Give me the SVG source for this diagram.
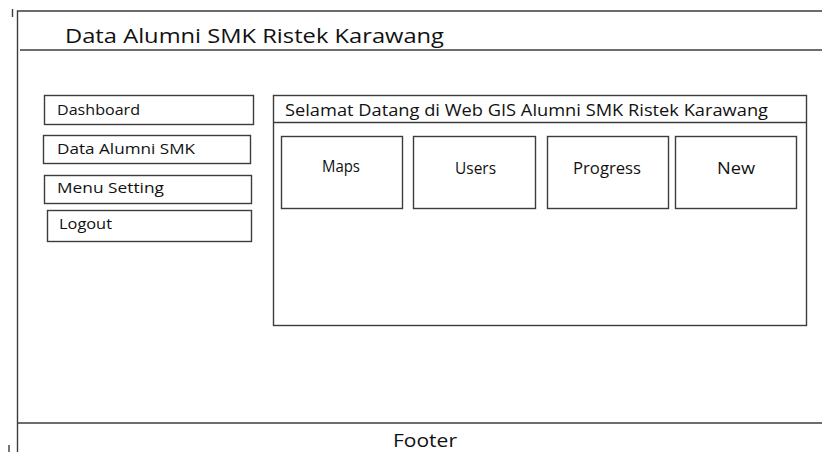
<svg xmlns="http://www.w3.org/2000/svg" width="822" height="452" viewBox="0 0 822 452">
<style>
.ln{stroke:#3c3c3c;stroke-width:1.4;fill:none}
.bx{fill:#fff;stroke:#3c3c3c;stroke-width:1.4}
.t{font-family:"Open Sans","Noto Sans",sans-serif;fill:#111}
.m{font-size:14.5px}
.c{font-size:16px}
</style>
<rect width="822" height="452" fill="#fff"/>
<g id="frame">
<line class="ln" x1="12.5" y1="9" x2="12.5" y2="17"/>
<line class="ln" x1="9" y1="445" x2="9" y2="452"/>
<polyline class="ln" points="822,11 17.5,11 17.5,452"/>
<line class="ln" x1="20" y1="50" x2="822" y2="50"/>
<line class="ln" x1="17.5" y1="423" x2="822" y2="423"/>
</g>
<g id="title"><text class="t" x="65" y="43" font-size="20" textLength="379" lengthAdjust="spacingAndGlyphs">Data Alumni SMK Ristek Karawang</text></g>
<g id="menu-dashboard"><rect class="bx" x="44.5" y="95.5" width="209" height="29"/><text class="t m" x="57" y="115" textLength="83" lengthAdjust="spacingAndGlyphs">Dashboard</text></g>
<g id="menu-data-alumni"><rect class="bx" x="43.5" y="135.5" width="207" height="28"/><text class="t m" x="57" y="154" textLength="138" lengthAdjust="spacingAndGlyphs">Data Alumni SMK</text></g>
<g id="menu-setting"><rect class="bx" x="44.5" y="175.5" width="207" height="28"/><text class="t m" x="57" y="193" textLength="107" lengthAdjust="spacingAndGlyphs">Menu Setting</text></g>
<g id="menu-logout"><rect class="bx" x="47.5" y="210.5" width="204" height="31"/><text class="t m" x="59" y="229" textLength="53" lengthAdjust="spacingAndGlyphs">Logout</text></g>
<g id="main-panel">
<rect class="bx" x="273.5" y="95.5" width="533" height="230"/>
<line class="ln" x1="273.5" y1="122.5" x2="806.5" y2="122.5"/>
<text class="t" x="285" y="116" font-size="15.5" textLength="483" lengthAdjust="spacingAndGlyphs">Selamat Datang di Web GIS Alumni SMK Ristek Karawang</text>
</g>
<g id="box-maps"><rect class="bx" x="281.5" y="136.5" width="121" height="72"/><text class="t c" x="322" y="172" textLength="38" lengthAdjust="spacingAndGlyphs">Maps</text></g>
<g id="box-users"><rect class="bx" x="413.5" y="136.5" width="122" height="72"/><text class="t c" x="455" y="174" textLength="41" lengthAdjust="spacingAndGlyphs">Users</text></g>
<g id="box-progress"><rect class="bx" x="547.5" y="136.5" width="121" height="72"/><text class="t c" x="573" y="174" textLength="68" lengthAdjust="spacingAndGlyphs">Progress</text></g>
<g id="box-new"><rect class="bx" x="675.5" y="136.5" width="121" height="72"/><text class="t c" x="717" y="174" textLength="38" lengthAdjust="spacingAndGlyphs">New</text></g>
<g id="footer"><text class="t" x="393" y="447" font-size="18" textLength="64" lengthAdjust="spacingAndGlyphs">Footer</text></g>
<g id="connectors"></g>
</svg>
